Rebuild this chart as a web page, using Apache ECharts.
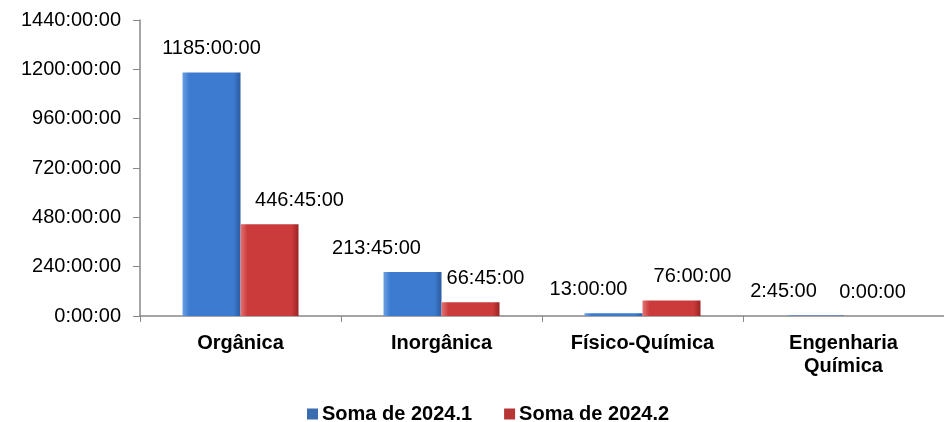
<!DOCTYPE html>
<html>
<head>
<meta charset="utf-8">
<script src="https://cdn.jsdelivr.net/npm/echarts@6/dist/echarts.min.js"></script>
<style>
  html, body { margin: 0; padding: 0; background: #fff; }
  #chart { width: 944px; height: 422px; }
</style>
</head>
<body>
<div id="chart"></div>
<script>
var categories = ['Orgânica', 'Inorgânica', 'Físico-Química', 'Engenharia\nQuímica'];
// horas
var soma20241 = [1185, 213.75, 13, 2.75];
var soma20242 = [446.75, 66.75, 76, 0];
var yTicks = [0, 240, 480, 720, 960, 1200, 1440];

// deslocamento horizontal dos rótulos (como no gráfico original)
var shift1 = [0, -36, -25, -31];
var shift2 = [30, 15, 21, 0];

var fmtHoras = function (v) {
    var h = Math.floor(v);
    var m = Math.round((v - h) * 60);
    return h + ':' + (m < 10 ? '0' + m : m) + ':00';
};

var buildData = function (vals, shifts) {
    var res = [];
    for (var i = 0; i < vals.length; i++) {
        res.push({ value: vals[i], label: { offset: [shifts[i], 0] } });
    }
    return res;
};

var grad = function (a, b, c) {
    return new echarts.graphic.LinearGradient(0, 0, 1, 0, [
        { offset: 0, color: a },
        { offset: 0.12, color: b },
        { offset: 0.88, color: b },
        { offset: 1, color: c }
    ]);
};

var myChart = echarts.init(document.getElementById('chart'));
var font = 'Liberation Sans, Arial, sans-serif';
var option = {
    backgroundColor: '#fff',
    animation: false,
    textStyle: { fontFamily: font },
    grid: { left: 140, top: 20, right: -14, bottom: 106 },
    legend: {
        left: 302,
        top: 399,
        itemWidth: 11,
        itemHeight: 11,
        itemGap: 32,
        icon: 'rect',
        textStyle: { fontSize: 20, fontWeight: 'bold', color: '#000', fontFamily: font, padding: [0, 0, 0, -1] },
        data: [
            { name: 'Soma de 2024.1', itemStyle: { color: '#3a6cb0' } },
            { name: 'Soma de 2024.2', itemStyle: { color: '#b83536' } }
        ]
    },
    xAxis: {
        type: 'category',
        data: categories,
        axisLine: { lineStyle: { color: '#888', width: 1.5 } },
        axisTick: { show: true, length: 6, lineStyle: { color: '#888' } },
        axisLabel: { fontSize: 20, fontWeight: 'bold', color: '#000', margin: 16, lineHeight: 23, interval: 0 }
    },
    yAxis: {
        type: 'value',
        min: yTicks[0],
        max: yTicks[yTicks.length - 1],
        interval: yTicks[1] - yTicks[0],
        splitLine: { show: false },
        axisLine: { show: true, lineStyle: { color: '#888', width: 1.5 } },
        axisTick: { show: true, length: 7, lineStyle: { color: '#888' } },
        axisLabel: { fontSize: 20, color: '#000', margin: 19, formatter: fmtHoras }
    },
    series: [
        {
            name: 'Soma de 2024.1',
            type: 'bar',
            barWidth: 58,
            barGap: '0%',
            data: buildData(soma20241, shift1),
            itemStyle: { color: grad('#6aa0e2', '#3c7bcf', '#2a5ca2') },
            label: { show: true, position: 'top', distance: 14, fontSize: 20, color: '#000', formatter: function (p) { return fmtHoras(p.value); } }
        },
        {
            name: 'Soma de 2024.2',
            type: 'bar',
            barWidth: 58,
            data: buildData(soma20242, shift2),
            itemStyle: { color: grad('#e27474', '#cc3b3b', '#9a2424') },
            label: { show: true, position: 'top', distance: 14, fontSize: 20, color: '#000', formatter: function (p) { return fmtHoras(p.value); } }
        }
    ]
};
myChart.setOption(option);
</script>
</body>
</html>
